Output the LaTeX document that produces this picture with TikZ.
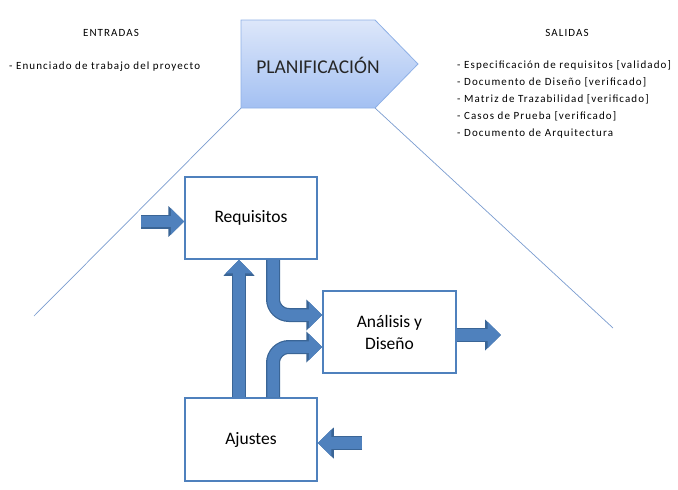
\documentclass[tikz,border=0pt]{standalone}
\usepackage{fontspec}
\setmainfont{Carlito}
\newfontfamily\smallfam[LetterSpace=10]{Carlito}
\usetikzlibrary{arrows.meta,calc}
\definecolor{bfill}{HTML}{4F81BD}
\definecolor{bdark}{HTML}{3A6596}
\definecolor{bline}{HTML}{4F81BD}
\definecolor{thin}{HTML}{7A9CCF}
\definecolor{gtop}{HTML}{DDE7FA}
\definecolor{gbot}{HTML}{A3C0F2}
\definecolor{pborder}{HTML}{8EB0E6}
\tikzset{
  procbox/.style={draw=bline, line width=1.5pt, fill=white, minimum width=132pt, minimum height=82pt, align=center, font=\fontsize{17.5}{22}\selectfont, inner sep=0pt},
  barrow/.style={preaction={draw=bdark, line width=14pt, -{Triangle[length=16pt,width=30pt]}}, draw=bfill, line width=11.5pt, -{Triangle[length=13.5pt,width=26pt]}},
  smalltext/.style={font=\smallfam\fontsize{11}{17}\selectfont, inner sep=0pt},
  guide/.style={draw=thin, line width=0.7pt}
}
\begin{document}
\begin{tikzpicture}[x=1pt,y=-1pt]
\useasboundingbox (0,0) rectangle (678,490);
% Pentagon
\coordinate (p1) at (241,20);
\coordinate (p2) at (375,20);
\coordinate (p3) at (418,64);
\coordinate (p4) at (375,108);
\coordinate (p5) at (241,108);
\shade[top color=gtop, bottom color=gbot] (p1) -- (p2) -- (p3) -- (p4) -- (p5) -- cycle;
\draw[draw=pborder, line width=0.8pt] (p1) -- (p2) -- (p3) -- (p4) -- (p5) -- cycle;
\node[font=\fontsize{19.5}{22}\selectfont, text=black!85] (plan) at (318,65) {PLANIFICACIÓN};
% guide lines
\coordinate (gl) at (34,316);
\coordinate (gr) at (613,328);
\draw[guide] (p5) -- (gl);
\draw[guide] (p4) -- (gr);
% texts
\node[smalltext, anchor=base] (entr) at (111,36) {ENTRADAS};
\node[smalltext, anchor=base west] (enun) at (9,69) {- Enunciado de trabajo del proyecto};
\node[smalltext, anchor=base] (sal) at (567,36) {SALIDAS};
\node[smalltext, anchor=north west, align=left] (list) at (457,60.5) {- Especificación de requisitos [validado]\\- Documento de Diseño [verificado]\\- Matriz de Trazabilidad [verificado]\\- Casos de Prueba [verificado]\\- Documento de Arquitectura};
% boxes
\node[procbox] (req) at (251,218) {Requisitos};
\node[procbox, minimum width=133pt] (ana) at (389.5,332) {Análisis y\\Diseño};
\node[procbox, minimum height=83pt] (aju) at (251,439.5) {Ajustes};
% arrows
\coordinate (inreq) at (141,221.5);
\draw[barrow] (inreq) -- (req.west |- inreq);
\coordinate (inaju) at (362,443);
\draw[barrow] (inaju) -- (aju.east |- inaju);
\coordinate (outana) at (501,335);
\draw[barrow] (ana.east |- outana) -- (outana);
\draw[barrow] (aju.north -| 239,0) -- (req.south -| 239,0);
\draw[barrow, rounded corners=16pt] (req.south -| 273,0) |- ($(ana.west)+(0,-17)$);
\draw[barrow, rounded corners=16pt] (aju.north -| 273,0) |- ($(ana.west)+(0,15)$);
\end{tikzpicture}
\end{document}
